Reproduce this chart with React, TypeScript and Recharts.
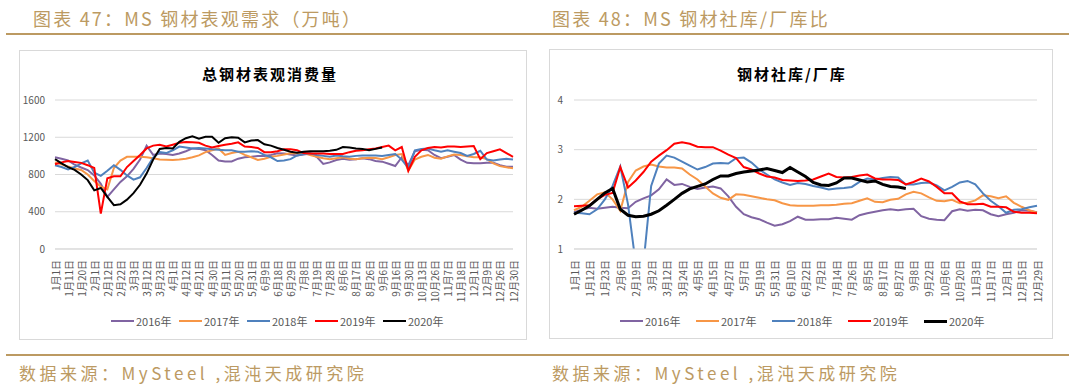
import { LineChart, Line, XAxis, YAxis, CartesianGrid } from "recharts";

// ---- 图表47 总钢材表观消费量 (万吨) ----
const demandDates = [
  "1月1日", "1月6日", "1月11日", "1月15日", "1月20日", "1月26日", "2月1日", "2月6日", "2月12日", "2月17日",
  "2月22日", "2月27日", "3月3日", "3月8日", "3月12日", "3月17日", "3月23日", "3月27日", "4月1日", "4月6日",
  "4月12日", "4月16日", "4月21日", "4月25日", "4月30日", "5月5日", "5月11日", "5月15日", "5月20日", "5月25日",
  "5月31日", "6月4日", "6月9日", "6月13日", "6月18日", "6月23日", "6月29日", "7月3日", "7月8日", "7月13日",
  "7月19日", "7月23日", "7月28日", "8月1日", "8月6日", "8月11日", "8月17日", "8月21日", "8月26日", "8月31日",
  "9月6日", "9月11日", "9月16日", "9月23日", "9月30日", "10月6日", "10月13日", "10月19日", "10月26日", "11月1日",
  "11月7日", "11月12日", "11月18日", "11月24日", "12月1日", "12月5日", "12月9日", "12月17日", "12月26日", "12月28日",
  "12月30日",
];
const demand2016 = [
  985, 970, 950, 905, 875, 848, 790, 700, 560, 640, 720, 780, 860, 960, 1110, 1010, 1025, 1020, 1010, 1025,
  1050, 1080, 1075, 1060, 1010, 950, 940, 940, 970, 985, 990, 999, 999, 1010, 1028, 1025, 1015, 1005, 1015, 1025,
  990, 913, 930, 955, 970, 958, 965, 974, 965, 945, 938, 915, 891, 985, 900, 1050, 1065, 1060, 1010, 975,
  990, 1009, 960, 925, 920, 922, 927, 927, 900, 884, 884,
];
const demand2017 = [
  930, 910, 885, 865, 848, 800, 730, 670, 640, 870, 950, 990, 990, 990, 985, 975, 960, 958, 955, 960,
  970, 985, 1005, 1040, 1060, 1080, 1010, 1030, 1045, 1010, 985, 956, 970, 990, 1000, 1015, 1028, 1028, 1028, 1010,
  990, 975, 963, 975, 985, 970, 965, 974, 980, 976, 963, 985, 1009, 1020, 841, 960, 991, 1010, 980, 970,
  995, 1015, 1010, 995, 985, 985, 965, 920, 890, 877, 866,
];
const demand2018 = [
  900, 880, 855, 880, 920, 950, 820, 785, 840, 900, 850, 790, 745, 770, 870, 980, 1040, 1030, 1060, 1100,
  1090, 1080, 1085, 1080, 1070, 1065, 1060, 1060, 1045, 1045, 1050, 1045, 1010, 985, 945, 950, 965, 1005, 1020, 1028,
  1010, 1000, 990, 1005, 995, 990, 1000, 1005, 1005, 1005, 1000, 1010, 1020, 960, 870, 1060, 1075, 1080, 1060, 1045,
  1060, 1045, 1030, 1000, 1020, 1055, 960, 950, 960, 970, 960,
];
const demand2019 = [
  910, 930, 945, 935, 925, 900, 870, 380, 760, 780, 780, 880, 945, 1010, 1080, 1110, 1120, 1100, 1120, 1140,
  1150, 1145, 1140, 1110, 1090, 1105, 1120, 1130, 1145, 1100, 1095, 1085, 1040, 1040, 1050, 1070, 1070, 1060, 1030, 1025,
  1025, 1025, 1020, 1020, 1020, 1040, 1055, 1060, 1070, 1080, 1095, 1110, 1060, 1095, 840, 990, 1060, 1085, 1095, 1090,
  1100, 1100, 1095, 1100, 1105, 965, 1030, 1050, 1070, 1030, 990,
];
const demand2020 = [
  965, 920, 880, 850, 800, 740, 630, 655, 560, 470, 480, 530, 600, 690, 810, 960, 1075, 1085, 1080, 1150,
  1190, 1210, 1185, 1205, 1205, 1140, 1190, 1200, 1195, 1145, 1165, 1170, 1125, 1110, 1085, 1065, 1045, 1035, 1045, 1050,
  1050, 1050, 1055, 1065, 1095, 1090, 1080, 1075, 1060, 1075, 1090, null, null, null, null, null, null, null, null, null,
  null, null, null, null, null, null, null, null, null, null, null,
];
const demandTicks = [0, 400, 800, 1200, 1600];

// ---- 图表48 钢材社库/厂库 ----
const ratioDates = [
  "1月1日", "1月6日", "1月12日", "1月17日", "1月23日", "1月29日", "2月6日", "2月12日", "2月19日", "2月24日",
  "3月2日", "3月7日", "3月12日", "3月18日", "3月24日", "3月30日", "4月5日", "4月10日", "4月15日", "4月21日",
  "4月27日", "5月2日", "5月7日", "5月13日", "5月19日", "5月25日", "5月31日", "6月5日", "6月10日", "6月16日",
  "6月22日", "6月27日", "7月2日", "7月8日", "7月14日", "7月20日", "7月26日", "7月31日", "8月5日", "8月11日",
  "8月17日", "8月22日", "8月27日", "9月2日", "9月8日", "9月15日", "9月22日", "9月29日", "10月6日", "10月13日",
  "10月20日", "10月27日", "11月3日", "11月10日", "11月17日", "11月24日", "12月1日", "12月8日", "12月15日", "12月22日",
  "12月29日",
];
const ratio2016 = [
  1.74, 1.79, 1.83, 1.81, 1.83, 1.85, 1.83, 1.82, 1.95, 2.02, 2.08, 2.2, 2.4, 2.29, 2.31, 2.25, 2.21, 2.24, 2.26, 2.22,
  2.06, 1.85, 1.7, 1.64, 1.6, 1.53, 1.47, 1.5, 1.56, 1.65, 1.59, 1.59, 1.6, 1.6, 1.63, 1.61, 1.59, 1.68, 1.72, 1.75,
  1.78, 1.8, 1.78, 1.8, 1.81, 1.66, 1.61, 1.59, 1.58, 1.76, 1.8, 1.77, 1.79, 1.78, 1.7, 1.66, 1.7, 1.73, 1.78, 1.77,
  1.74,
];
const ratio2017 = [
  1.78, 1.85, 1.97, 2.1, 2.14, 2.0, 1.77, 2.35, 2.58, 2.66, 2.7, 2.66, 2.64, 2.64, 2.62, 2.5, 2.4, 2.26, 2.12, 2.03,
  1.99, 2.1, 2.09, 2.06, 2.03, 2.0, 1.98, 1.92, 1.88, 1.87, 1.87, 1.87, 1.88, 1.88, 1.89, 1.91, 1.92, 1.97, 2.02, 1.95,
  1.94, 1.99, 2.01, 2.1, 2.15, 2.12, 2.04, 1.97, 1.96, 1.99, 1.92, 1.93, 1.98, 2.08, 2.06, 2.02, 2.06, 1.93, 1.85, 1.78,
  1.73,
];
const ratio2018 = [
  1.73, 1.72, 1.7, 1.8, 2.0, 2.27, 2.66, 1.9, 0.7, 0.7, 2.27, 2.72, 2.88, 2.84, 2.76, 2.68, 2.6, 2.65, 2.72, 2.73,
  2.72, 2.83, 2.84, 2.74, 2.6, 2.5, 2.4, 2.34, 2.29, 2.33, 2.31, 2.27, 2.24, 2.2, 2.22, 2.23, 2.25, 2.35, 2.42, 2.4,
  2.43, 2.45, 2.44, 2.3, 2.3, 2.33, 2.34, 2.28, 2.18, 2.25, 2.34, 2.37, 2.3, 2.12, 1.97, 1.86, 1.73, 1.79, 1.8, 1.84,
  1.87,
];
const ratio2019 = [
  1.86, 1.87, 1.88, 2.0, 2.09, 2.13, 2.65, 2.24, 2.38, 2.55, 2.76, 2.88, 2.99, 3.12, 3.15, 3.12, 3.06, 3.05, 3.05, 2.98,
  2.9, 2.83, 2.65, 2.6, 2.52, 2.46, 2.44, 2.39, 2.38, 2.37, 2.38, 2.4, 2.46, 2.52, 2.45, 2.44, 2.45, 2.48, 2.5, 2.42,
  2.4, 2.4, 2.39, 2.3, 2.35, 2.42, 2.36, 2.25, 2.12, 2.12, 1.96, 1.9, 1.9, 1.91, 1.85, 1.85, 1.84, 1.75, 1.73, 1.73,
  1.72,
];
const ratio2020 = [
  1.7, 1.78, 1.87, 2.0, 2.13, 2.22, 1.8, 1.68, 1.65, 1.66, 1.7, 1.77, 1.88, 2.0, 2.12, 2.21, 2.26, 2.31, 2.4, 2.47,
  2.47, 2.52, 2.55, 2.57, 2.59, 2.62, 2.58, 2.54, 2.64, 2.55, 2.46, 2.34, 2.29, 2.28, 2.33, 2.43, 2.43, 2.39, 2.35, 2.37,
  2.3, 2.26, 2.25, 2.22, null, null, null, null, null, null, null, null, null, null, null, null, null, null, null, null,
  null,
];
const ratioTicks = [1, 2, 3, 4];

const years = ["2016年", "2017年", "2018年", "2019年", "2020年"];
const colors = ["#8064A2", "#F79646", "#4F81BD", "#FF0000", "#000000"];

const GOLD = "#BC9A62";
const FONT = '"Noto Sans CJK SC", "Noto Sans", sans-serif';

function buildRows(dates: string[], series: (number | null)[][]) {
  return dates.map((d, i) => {
    const row: any = { date: d };
    series.forEach((s, k) => {
      row[years[k]] = s[i];
    });
    return row;
  });
}

const XTick = (props: any) => {
  const { x, y, payload } = props;
  return (
    <g transform={`translate(${x},${y})`}>
      <text
        transform="rotate(-90)"
        textAnchor="end"
        dominantBaseline="central"
        fontSize={10}
        fill="#595959"
        fontFamily={FONT}
      >
        {payload.value}
      </text>
    </g>
  );
};

function LegendRow({ left, top, step, blackWidth }: any) {
  return (
    <div style={{ position: "absolute", left, top, display: "flex", fontSize: 11, color: "#595959", fontFamily: FONT }}>
      {years.map((y, k) => (
        <div key={y} style={{ display: "flex", alignItems: "center", width: step }}>
          <div style={{ width: 23, height: k === 4 ? blackWidth : 2, background: colors[k], marginRight: 2 }} />
          <span>{y}</span>
        </div>
      ))}
    </div>
  );
}

function SeasonChart({ rows, ticks, domain, width, height, marginTop, marginRight, yWidth, tickGap, blackWidth }: any) {
  return (
    <LineChart width={width} height={height} data={rows} margin={{ top: marginTop, right: marginRight, left: 0, bottom: 0 }}>
      <CartesianGrid vertical={false} stroke="#D9D9D9" />
      <XAxis
        dataKey="date"
        interval={1}
        tick={<XTick />}
        tickSize={0}
        tickMargin={11}
        tickLine={false}
        axisLine={{ stroke: "#D9D9D9" }}
        height={height - marginTop - 149}
      />
      <YAxis
        domain={domain}
        ticks={ticks}
        allowDataOverflow
        width={yWidth}
        axisLine={false}
        tickLine={false}
        tickSize={0}
        tickMargin={tickGap}
        tick={{ fontSize: 10, fill: "#595959", fontFamily: FONT }}
      />
      {years.map((y, k) => (
        <Line
          key={y}
          type="linear"
          dataKey={y}
          stroke={colors[k]}
          strokeWidth={k === 4 ? blackWidth : 2}
          dot={false}
          isAnimationActive={false}
        />
      ))}
    </LineChart>
  );
}

export default function App() {
  const demandRows = buildRows(demandDates, [demand2016, demand2017, demand2018, demand2019, demand2020]);
  const ratioRows = buildRows(ratioDates, [ratio2016, ratio2017, ratio2018, ratio2019, ratio2020]);

  const header: any = { position: "absolute", top: 5, fontSize: 18, letterSpacing: 2.2, color: GOLD, fontFamily: FONT, whiteSpace: "nowrap" };
  const footer: any = { position: "absolute", top: 360, fontSize: 17, letterSpacing: 3.5, color: GOLD, fontFamily: FONT, whiteSpace: "nowrap" };
  const box: any = { position: "absolute", border: "1px solid #D9D9D9", background: "#fff", boxSizing: "border-box" };
  const title: any = { position: "absolute", top: 63, fontSize: 15, fontWeight: 700, letterSpacing: 2, color: "#000", fontFamily: FONT, whiteSpace: "nowrap" };

  return (
    <div style={{ position: "absolute", left: 0, top: 0, width: 1080, height: 386, background: "#fff", overflow: "hidden" }}>
      <div style={{ ...header, left: 33 }}>图表 47：MS 钢材表观需求（万吨）</div>
      <div style={{ ...header, left: 552 }}>图表 48：MS 钢材社库/厂库比</div>
      <div style={{ position: "absolute", left: 6, top: 33, width: 1063, height: 2, background: GOLD }} />

      <div style={{ ...box, left: 19, top: 50, width: 508, height: 290 }} />
      <div style={{ ...box, left: 549, top: 49, width: 504, height: 290 }} />

      <div style={{ position: "absolute", left: 19, top: 50 }}>
        <SeasonChart rows={demandRows} ticks={demandTicks} domain={[0, 1600]} width={507} height={290}
          marginTop={50} marginRight={13} yWidth={36} tickGap={10} blackWidth={2} />
      </div>
      <div style={{ position: "absolute", left: 549, top: 49 }}>
        <SeasonChart rows={ratioRows} ticks={ratioTicks} domain={[1, 4]} width={503} height={290}
          marginTop={51} marginRight={15} yWidth={25} tickGap={11} blackWidth={3} />
      </div>

      <div style={{ ...title, left: 202 }}>总钢材表观消费量</div>
      <div style={{ ...title, left: 737 }}>钢材社库/厂库</div>

      <LegendRow left={111} top={313} step={68} blackWidth={2} />
      <LegendRow left={620} top={313} step={76} blackWidth={3} />

      <div style={{ position: "absolute", left: 6, top: 354, width: 1063, height: 2, background: GOLD }} />
      <div style={{ ...footer, left: 19 }}>数据来源：MySteel ,混沌天成研究院</div>
      <div style={{ ...footer, left: 552 }}>数据来源：MySteel ,混沌天成研究院</div>
    </div>
  );
}
